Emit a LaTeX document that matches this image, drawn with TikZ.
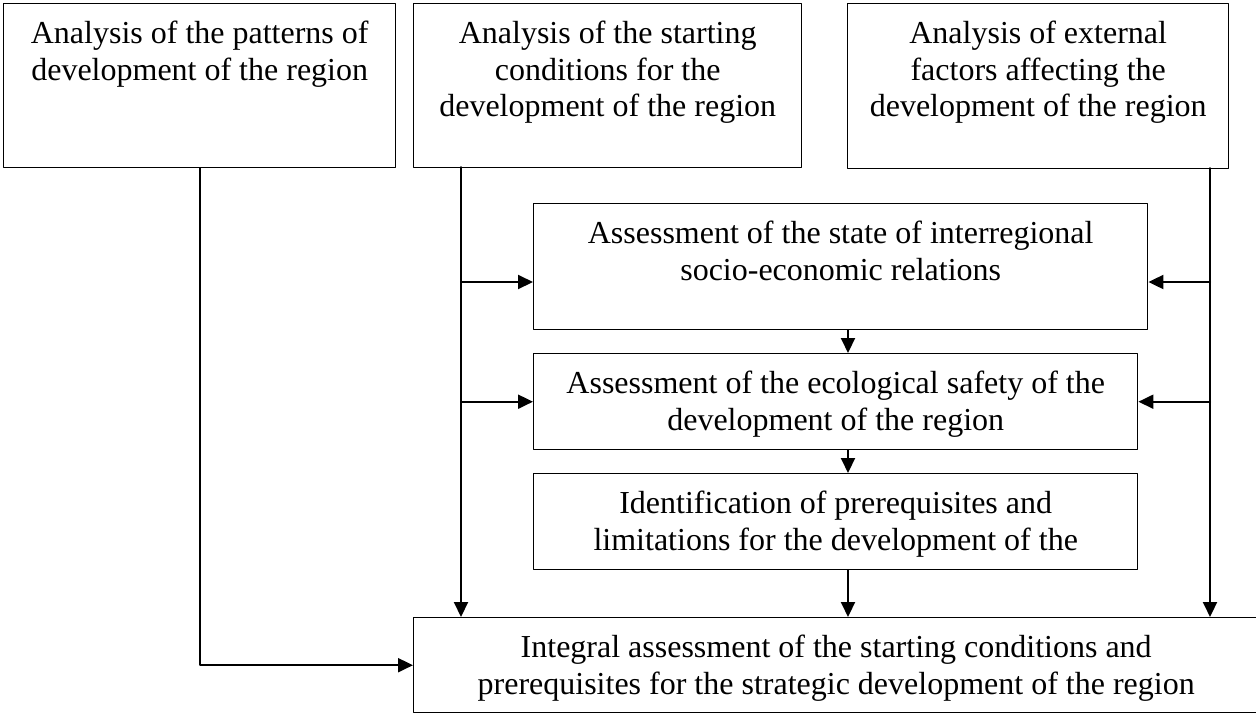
\documentclass[tikz,border=0pt]{standalone}
\usepackage{fontspec}
\setmainfont{Liberation Serif}
\usetikzlibrary{arrows.meta}

\begin{document}
\begin{tikzpicture}[line cap=round, line join=round, x=0.5pt, y=-0.5pt,
        box/.style={draw, line width=0.7pt, anchor=north west, inner sep=0pt},
        txt/.style={align=center, anchor=north, inner sep=0pt, font=\fontsize{16pt}{18.3pt}\selectfont},
        arr/.style={line width=1pt, -{Triangle[length=7.5pt,width=7pt]}}]

                \useasboundingbox (0,0) rectangle (1256,713);

                \node[box, minimum width=196pt, minimum height=82pt] (A) at (3,3) {};
                \node[box, minimum width=194pt, minimum height=82pt] (B) at (413,3) {};
                \node[box, minimum width=190.5pt, minimum height=82.5pt] (C) at (847,3) {};
                \node[box, minimum width=307pt, minimum height=63pt] (D) at (533,203) {};
                \node[box, minimum width=302pt, minimum height=48pt] (E) at (533,353) {};
                \node[box, minimum width=302pt, minimum height=48pt] (G) at (533,473) {};
                \node[box, minimum width=422.5pt, minimum height=47.5pt] (F) at (413,617) {};

                \node[txt] (At) at ([yshift=-7.2pt]A.north) {\strut Analysis of the patterns of\\development of the region};
                \node[txt] (Bt) at ([yshift=-7.2pt]B.north) {\strut Analysis of the starting\\conditions for the\\development of the region};
                \node[txt] (Ct) at ([yshift=-7.2pt]C.north) {\strut Analysis of external\\factors affecting the\\development of the region};
                \node[txt] (Dt) at ([yshift=-7.2pt]D.north) {\strut Assessment of the state of interregional\\socio-economic relations};
                \node[txt] (Et) at ([yshift=-7.2pt]E.north) {\strut Assessment of the ecological safety of the\\development of the region};
                \node[txt] (Gt) at ([yshift=-7.2pt]G.north) {\strut Identification of prerequisites and\\limitations for the development of the};
                \node[txt] (Ft) at ([yshift=-7.2pt]F.north) {\strut Integral assessment of the starting conditions and\\prerequisites for the strategic development of the region};

                \coordinate (lt) at (461,167);
                \coordinate (rt) at (1210,168);
                \coordinate (cx) at (848,0);
                \coordinate (yD) at (0,282);

                \draw[arr] (A.south) |- (F.west);

                \draw[arr] (lt) -- (lt |- F.north);
                \draw[arr] (lt |- yD) -- (D.west |- yD);
                \draw[arr] (lt |- E.west) -- (E.west);

                \draw[arr] (rt) -- (rt |- F.north);
                \draw[arr] (rt |- yD) -- (D.east |- yD);
                \draw[arr] (rt |- E.east) -- (E.east);

                \draw[arr] (D.south -| cx) -- (E.north -| cx);
                \draw[arr] (E.south -| cx) -- (G.north -| cx);
                \draw[arr] (G.south -| cx) -- (F.north -| cx);

\end{tikzpicture}
\end{document}
